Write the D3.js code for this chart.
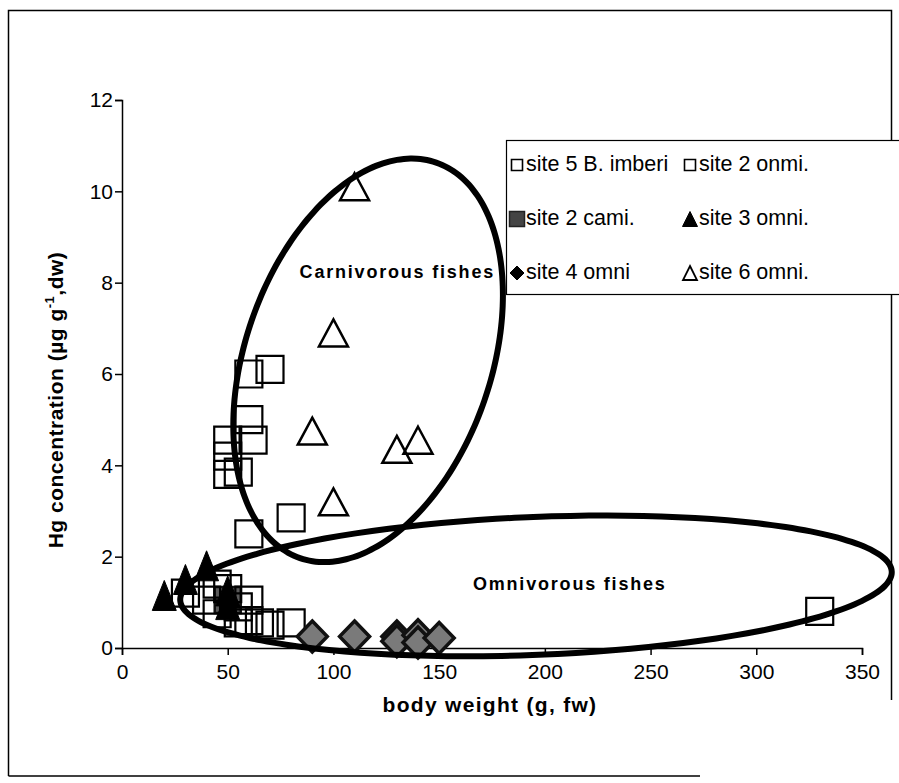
<!DOCTYPE html>
<html>
<head>
<meta charset="utf-8">
<script src="https://cdn.jsdelivr.net/npm/d3@7"></script>
<style>
  html, body { margin: 0; padding: 0; background: #fff; }
  svg { display: block; font-family: "Liberation Sans", Arial, sans-serif; }
</style>
</head>
<body>
<svg id="chart" width="899" height="783"></svg>
<script>
// Axis ticks
const xTicks = [0, 50, 100, 150, 200, 250, 300, 350];
const yTicks = [0, 2, 4, 6, 8, 10, 12];

// Series: body weight (g, fw) and Hg concentration (µg/g, dw)
const site5ImberiX = [60, 70, 60, 50, 50, 62, 50, 55, 60, 80];
const site5ImberiY = [6.0, 6.1, 5.0, 4.55, 4.2, 4.55, 3.8, 3.85, 2.5, 2.85];

const site2OmniX = [30, 40, 45, 50, 55, 60, 45, 55, 60, 65, 70, 80, 330];
const site2OmniY = [1.2, 1.05, 1.4, 1.3, 0.9, 1.05, 0.75, 0.55, 0.6, 0.55, 0.5, 0.55, 0.8];

const site2CarniX = [50];
const site2CarniY = [1.05];

const site3OmniX = [20, 30, 40, 50, 50];
const site3OmniY = [1.15, 1.5, 1.8, 1.25, 0.95];

const site4OmniX = [90, 110, 130, 130, 140, 140, 150];
const site4OmniY = [0.25, 0.25, 0.25, 0.15, 0.28, 0.12, 0.22];

const site6OmniX = [110, 100, 90, 130, 140, 100];
const site6OmniY = [10.1, 6.9, 4.75, 4.35, 4.55, 3.2];

// Group outlines: centre (data units), semi-axes (data units), tilt (degrees)
const groupNames = ["Carnivorous fishes", "Omnivorous fishes"];
const groupCx = [116.4, 195.8];
const groupCy = [6.3, 1.36];
const groupRx = [58.2, 168.4];
const groupRy = [4.58, 1.51];
const groupTilt = [19, -2.3];
const groupLabelX = [84, 166];
const groupLabelY = [8.1, 1.27];

const legendLabels = ["site 5 B. imberi", "site 2 onmi.", "site 2 cami.", "site 3 omni.", "site 4 omni", "site 6 omni."];

const svg = d3.select("#chart");

// outer frame
svg.append("path")
  .attr("d", "M8.5,776 L8.5,10.5 L891.5,10.5 L891.5,700")
  .attr("fill", "none").attr("stroke", "#000").attr("stroke-width", 1.5);
svg.append("line").attr("x1", 8.5).attr("x2", 700).attr("y1", 776).attr("y2", 776)
  .attr("stroke", "#000").attr("stroke-width", 1.5);

const x = d3.scaleLinear().domain([0, 350]).range([122, 862]);
const y = d3.scaleLinear().domain([0, 12]).range([648, 100]);

// axes
const xAxis = svg.append("g").attr("transform", `translate(0,${y(0)})`)
  .call(d3.axisBottom(x).tickValues(xTicks).tickSize(7).tickPadding(6).tickFormat(d3.format("d")));
const yAxis = svg.append("g").attr("transform", `translate(${x(0)},0)`)
  .call(d3.axisLeft(y).tickValues(yTicks).tickSize(7).tickPadding(2).tickFormat(d3.format("d")));
[xAxis, yAxis].forEach(g => {
  g.select(".domain").attr("stroke", "#000").attr("stroke-width", 1.5);
  g.selectAll(".tick line").attr("stroke", "#000").attr("stroke-width", 1.5);
  g.selectAll(".tick text").attr("font-size", 21).attr("fill", "#000")
    .attr("font-family", "'Liberation Sans', Arial, sans-serif");
});
xAxis.selectAll(".tick text").attr("dy", "0.85em");

// axis titles
svg.append("text")
  .attr("x", 490).attr("y", 712)
  .attr("text-anchor", "middle")
  .attr("font-size", 21).attr("font-weight", "bold").attr("letter-spacing", 1.3)
  .text("body weight (g, fw)");

const yTitle = svg.append("text")
  .attr("transform", "translate(63,400) rotate(-90)")
  .attr("text-anchor", "middle")
  .attr("font-size", 21).attr("font-weight", "bold").attr("letter-spacing", 0.5);
yTitle.append("tspan").text("Hg concentration (µg g");
yTitle.append("tspan").attr("font-size", 13).attr("dy", -9).text("-1");
yTitle.append("tspan").attr("dy", 9).text(",dw)");

// marker shapes
const sq = (s) => `M${-s/2},${-s/2}h${s}v${s}h${-s}Z`;
const tri = (w, h) => `M0,${-h/2}L${w/2},${h/2}L${-w/2},${h/2}Z`;
const dia = (w, h) => `M0,${-h/2}L${w/2},0L0,${h/2}L${-w/2},0Z`;

function plot(xs, ys, d, fill, stroke, sw) {
  svg.append("g").selectAll("path").data(xs.map((v, i) => [v, ys[i]]))
    .join("path")
    .attr("transform", p => `translate(${x(p[0])},${y(p[1])})`)
    .attr("d", d)
    .attr("fill", fill).attr("stroke", stroke).attr("stroke-width", sw);
}

plot(site2CarniX, site2CarniY, sq(26), "#5a5a5a", "#111", 2.5);
plot(site5ImberiX, site5ImberiY, sq(27), "none", "#000", 2.2);
plot(site2OmniX, site2OmniY, sq(27), "none", "#000", 2.2);
plot(site4OmniX, site4OmniY, dia(30, 31), "#7a7a7a", "#111", 3.5);
plot(site3OmniX, site3OmniY, tri(24, 30), "#000", "#000", 1);
plot(site6OmniX, site6OmniY, tri(29, 27), "none", "#000", 2.5);

// group outlines
groupNames.forEach((name, i) => {
  const cx = x(groupCx[i]), cy = y(groupCy[i]);
  const rx = x(groupRx[i]) - x(0), ry = y(0) - y(groupRy[i]);
  const a = groupTilt[i] * Math.PI / 180;
  const pts = d3.range(0, 361, 3).map(t => {
    const r = t * Math.PI / 180;
    const ex = rx * Math.cos(r), ey = ry * Math.sin(r);
    return [cx + ex * Math.cos(a) - ey * Math.sin(a), cy + ex * Math.sin(a) + ey * Math.cos(a)];
  });
  svg.append("path")
    .attr("d", d3.line().curve(d3.curveCardinalClosed)(pts.slice(0, -1)))
    .attr("fill", "none").attr("stroke", "#000").attr("stroke-width", 6);
  svg.append("text")
    .attr("x", x(groupLabelX[i])).attr("y", y(groupLabelY[i]))
    .attr("font-size", 18).attr("font-weight", "bold").attr("letter-spacing", 1.8)
    .text(name);
});

// legend
const lg = svg.append("g");
lg.append("rect").attr("x", 506.5).attr("y", 140.5).attr("width", 400).attr("height", 154)
  .attr("fill", "#fff").attr("stroke", "#000").attr("stroke-width", 1.2);
const legendMarks = [
  { d: sq(11), fill: "#fff", stroke: "#000", sw: 1.6 },
  { d: sq(11), fill: "#fff", stroke: "#000", sw: 1.6 },
  { d: sq(15), fill: "#444", stroke: "#222", sw: 1.5 },
  { d: tri(15, 15), fill: "#000", stroke: "#000", sw: 1 },
  { d: dia(14, 14), fill: "#000", stroke: "#000", sw: 1 },
  { d: tri(14, 14), fill: "#fff", stroke: "#000", sw: 1.8 }
];
const legendCols = [517, 690];
const legendRows = [163, 217, 271];
legendLabels.forEach((lab, i) => {
  const cx = legendCols[i % 2], cy = legendRows[Math.floor(i / 2)];
  const m = legendMarks[i];
  lg.append("path").attr("transform", `translate(${cx},${cy + 2})`).attr("d", m.d)
    .attr("fill", m.fill).attr("stroke", m.stroke).attr("stroke-width", m.sw);
  lg.append("text").attr("x", cx + 9).attr("y", cy).attr("dy", "0.35em")
    .attr("font-size", 21.5).text(lab);
});
</script>
</body>
</html>
